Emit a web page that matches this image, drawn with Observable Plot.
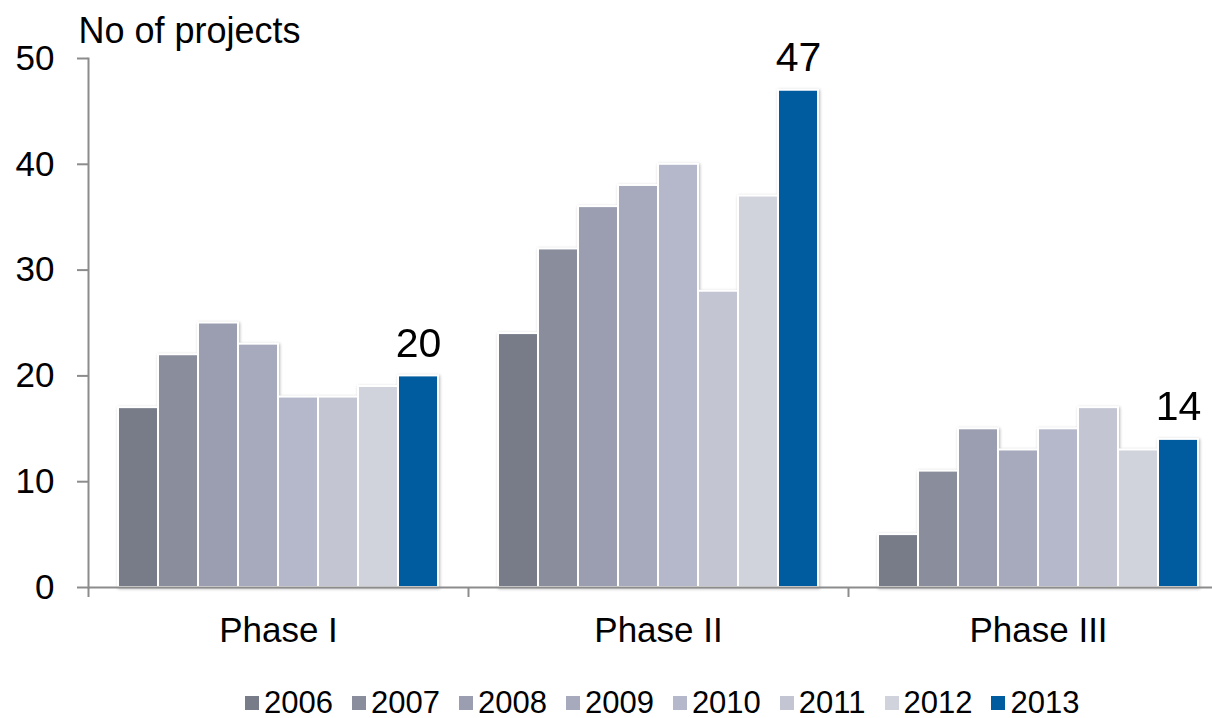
<!DOCTYPE html>
<html>
<head>
<meta charset="utf-8">
<script src="https://cdn.jsdelivr.net/npm/d3@7"></script>
<script src="https://cdn.jsdelivr.net/npm/@observablehq/plot@0.6"></script>
<style>
  html, body { margin: 0; padding: 0; background: #fff; overflow: hidden; }
  #wrap { position: relative; width: 1212px; height: 718px; font-family: "Liberation Sans", Arial, sans-serif; }
  #chart svg text { fill: #000; }
  #legend { position: absolute; left: 245px; top: 689px; display: flex; align-items: center;
            font-size: 31px; line-height: 28px; color: #000; white-space: nowrap; }
  #legend .item { display: flex; align-items: center; margin-right: 19px; }
  #legend .sw { width: 14px; height: 14px; margin-right: 5px; }
</style>
</head>
<body>
<div id="wrap">
  <div id="chart"></div>
  <div id="legend"></div>
</div>
<script>
// Number of projects by clinical phase, 2006–2013
const phases = ["Phase I", "Phase II", "Phase III"];
const years = ["2006", "2007", "2008", "2009", "2010", "2011", "2012", "2013"];
const phaseI   = [17, 22, 25, 23, 18, 18, 19, 20];
const phaseII  = [24, 32, 36, 38, 40, 28, 37, 47];
const phaseIII = [5, 11, 15, 13, 15, 17, 13, 14];
const yTicks = [0, 10, 20, 30, 40, 50];
const yearColors = ["#787c89", "#898d9c", "#9a9eb0", "#a7aabd", "#b5b8ca", "#c3c5d3", "#d0d2dc", "#005c9e"];
const yLabel = "No of projects";
const labelledYear = "2013";

const series = [phaseI, phaseII, phaseIII];
const rows = phases.flatMap((phase, i) =>
  years.map((year, j) => ({phase, year, value: series[i][j]}))
);

const axisGrey = "#8c8c8c";

const chart = Plot.plot({
  width: 1212,
  height: 718,
  marginLeft: 88,
  marginRight: -16,
  marginTop: 58,
  marginBottom: 131,
  style: {fontFamily: "'Liberation Sans', Arial, sans-serif", fontSize: "35px", color: axisGrey, background: "#fff"},
  fx: {domain: phases, padding: 0, axis: "bottom", label: null, tickSize: 0, tickPadding: 30},
  x: {domain: years, axis: null, paddingInner: 0, paddingOuter: 0.75},
  y: {domain: [0, 50], ticks: yTicks, tickSize: 11, tickPadding: 23, label: null, line: true},
  color: {domain: years, range: yearColors},
  marks: [
    Plot.barY(rows, {fx: "phase", x: "year", y: "value", fill: "year", stroke: "white", strokeWidth: 2}),
    Plot.ruleY([0], {stroke: axisGrey, strokeWidth: 2}),
    // category separators below the baseline
    Plot.ruleX(phases, {fx: d => d, x: () => years[0], y1: 0, y2: 0, insetBottom: -10, dx: -50, stroke: axisGrey, strokeWidth: 2}),
    Plot.text(rows.filter(d => d.year === labelledYear), {
      fx: "phase", x: "year", y: "value", text: d => String(d.value),
      lineAnchor: "bottom", dy: -19, fontSize: 41, fill: "#000"
    }),
    Plot.text([yLabel], {
      fx: () => phases[0], frameAnchor: "top-left", textAnchor: "start", lineAnchor: "bottom",
      dx: -10, dy: -16, fontSize: 36, fill: "#000"
    })
  ]
});

document.getElementById("chart").appendChild(chart);

// soft drop shadow behind the bars
chart.querySelectorAll('g[aria-label="bar"]').forEach(g => {
  g.style.filter = "drop-shadow(1.5px 1px 1.5px rgba(0,0,0,0.28))";
});
// heavier axis strokes
chart.querySelectorAll('g[aria-label^="y-axis"] path, g[aria-label^="y-axis"] line, g[aria-label="frame"] line, g[aria-label="frame"] rect, .tick line, .domain').forEach(el => {
  el.setAttribute("stroke-width", 2);
});

// legend
const legend = d3.select("#legend");
years.forEach((y, i) => {
  const item = legend.append("div").attr("class", "item");
  item.append("div").attr("class", "sw").style("background", yearColors[i]);
  item.append("span").text(y);
});
</script>
</body>
</html>
